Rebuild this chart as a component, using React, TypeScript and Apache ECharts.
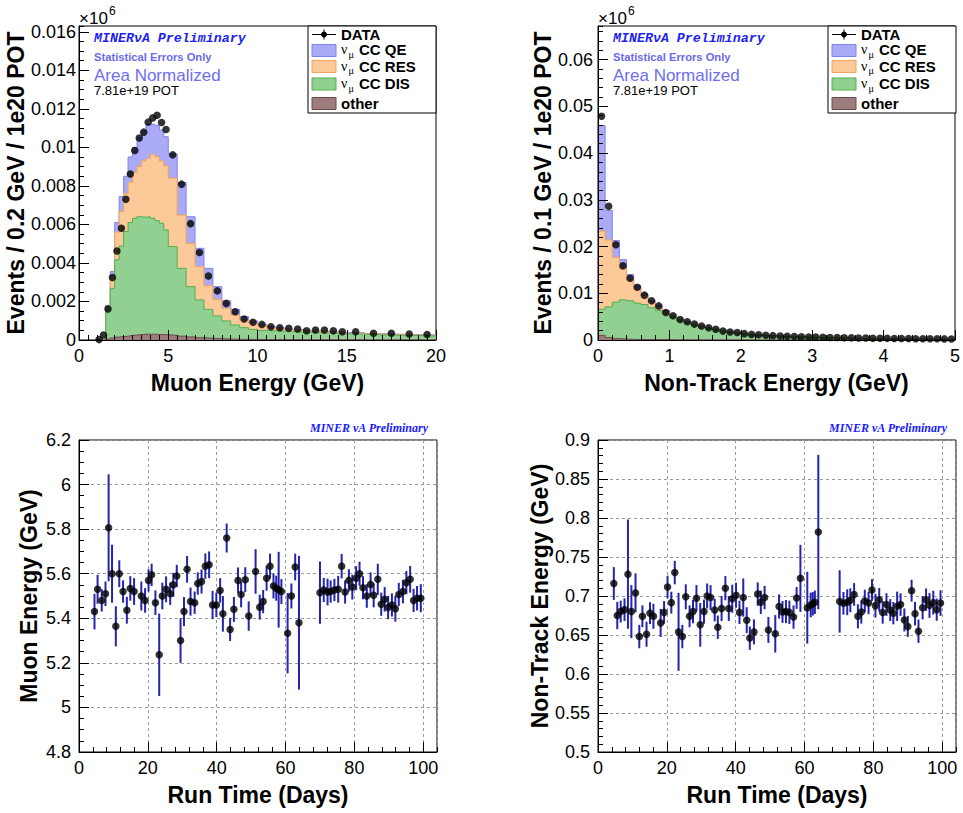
import React, { useEffect, useRef } from 'react';
import * as echarts from 'echarts';

// ---------- Top-left: Muon energy (values in units of 1e-3) ----------
const muonEdges = [1.0, 1.25, 1.5, 1.75, 2.0, 2.25, 2.5, 2.75, 3.0, 3.25, 3.5, 3.75, 4.0, 4.25, 4.5, 4.75, 5.0,
  5.5, 6.0, 6.5, 7.0, 7.5, 8.0, 8.5, 9.0, 9.5, 10.0, 10.5, 11.0, 11.5, 12.0, 12.5, 13.0, 13.5, 14.0, 14.5, 15.0,
  16.0, 17.0, 18.0, 19.0, 20.0];
const muonData = [0.02, 0.26, 1.61, 3.24, 4.62, 5.80, 7.31, 8.62, 9.84, 10.48, 10.79, 11.31, 11.53, 11.67, 11.29, 10.93,
  9.61, 8.09, 6.04, 4.54, 3.32, 2.55, 1.90, 1.47, 1.09, 0.92, 0.81, 0.69, 0.64, 0.61, 0.57, 0.48, 0.52, 0.52, 0.48, 0.43,
  0.43, 0.35, 0.35, 0.31, 0.28];
const muonQE = [0, 0, 0.04, 0.25, 0.5, 0.78, 0.9, 1.3, 1.3, 1.5, 1.55, 1.76, 1.55, 1.63, 1.6, 1.5,
  1.26, 1.68, 1.38, 0.95, 0.9, 0.66, 0.38, 0.29, 0.17, 0.11, 0.08, 0.06, 0.05, 0.04, 0.03, 0.03, 0.03, 0.03, 0.02, 0.02,
  0.03, 0.02, 0.02, 0.02, 0.02];
const muonRES = [0, 0, 0.03, 0.62, 1.44, 1.79, 1.97, 2.1, 2.38, 2.6, 2.93, 3.04, 3.33, 3.32, 3.24, 3.34,
  3.55, 2.77, 2.25, 1.73, 1.23, 0.86, 0.66, 0.52, 0.4, 0.32, 0.24, 0.16, 0.12, 0.09, 0.08, 0.07, 0.06, 0.06, 0.06, 0.06,
  0.04, 0.04, 0.03, 0.03, 0.03];
const muonDIS = [0, 0, 1.68, 2.58, 4.01, 4.7, 5.43, 5.87, 6.06, 6.12, 6.07, 6.1, 6.02, 5.91, 5.78, 5.44,
  4.61, 3.52, 2.61, 1.96, 1.5, 1.18, 0.94, 0.74, 0.61, 0.52, 0.475, 0.46, 0.44, 0.42, 0.4, 0.385, 0.365, 0.345, 0.325, 0.305,
  0.29, 0.26, 0.24, 0.22, 0.2];
const muonOther = [0, 0, 0.05, 0.1, 0.15, 0.18, 0.2, 0.23, 0.26, 0.28, 0.3, 0.3, 0.3, 0.29, 0.28, 0.27,
  0.24, 0.2, 0.16, 0.12, 0.09, 0.07, 0.05, 0.04, 0.03, 0.03, 0.025, 0.02, 0.02, 0.02, 0.02, 0.015, 0.015, 0.015, 0.015, 0.015,
  0.01, 0.01, 0.01, 0.01, 0.01];
const muonScale = 0.001;

// ---------- Top-right: Non-track energy (values in units of 1e-2) ----------
const ntEdges = [0, 0.1, 0.2, 0.3, 0.4, 0.5, 0.6, 0.7, 0.8, 0.9, 1.0, 1.1, 1.2, 1.3, 1.4, 1.5, 1.6, 1.7, 1.8, 1.9, 2.0,
  2.1, 2.2, 2.3, 2.4, 2.5, 2.6, 2.7, 2.8, 2.9, 3.0, 3.1, 3.2, 3.3, 3.4, 3.5, 3.6, 3.7, 3.8, 3.9, 4.0,
  4.1, 4.2, 4.3, 4.4, 4.5, 4.6, 4.7, 4.8, 4.9, 5.0];
const ntData = [4.79, 2.86, 2.04, 1.59, 1.32, 1.13, 0.96, 0.84, 0.73, 0.59, 0.52, 0.44, 0.39, 0.34, 0.30, 0.26, 0.23, 0.19,
  0.17, 0.16, 0.136, 0.12, 0.114, 0.1, 0.093, 0.086, 0.08, 0.075, 0.07, 0.066, 0.062, 0.058, 0.055, 0.052, 0.049, 0.046,
  0.043, 0.041, 0.039, 0.037, 0.035, 0.033, 0.031, 0.03, 0.028, 0.027, 0.026, 0.025, 0.024, 0.023];
const ntQE = [2.26, 0.63, 0.36, 0.2, 0.11, 0.07, 0.04, 0.03, 0.04, 0.04, 0.02, 0.015, 0.01, 0.01, 0.01,
  0.008, 0.007, 0.007, 0.006, 0.006, 0.005, 0.005, 0.005, 0.004, 0.004, 0.004, 0.004, 0.003, 0.003, 0.003, 0.003, 0.003,
  0.003, 0.002, 0.002, 0.002, 0.002, 0.002, 0.002, 0.002, 0.002, 0.002, 0.001, 0.001, 0.001, 0.001, 0.001, 0.001, 0.001, 0.001];
const ntRES = [1.67, 1.43, 0.96, 0.66, 0.45, 0.30, 0.19, 0.12, 0.07, 0.03, 0.02, 0.015, 0.01, 0.01, 0.008,
  0.008, 0.007, 0.007, 0.006, 0.006, 0.005, 0.005, 0.005, 0.004, 0.004, 0.004, 0.004, 0.003, 0.003, 0.003, 0.003, 0.003,
  0.003, 0.002, 0.002, 0.002, 0.002, 0.002, 0.002, 0.002, 0.002, 0.002, 0.001, 0.001, 0.001, 0.001, 0.001, 0.001, 0.001, 0.001];
const ntDIS = [0.56, 0.66, 0.78, 0.84, 0.825, 0.78, 0.75, 0.68, 0.62, 0.55, 0.485, 0.415, 0.365, 0.315, 0.278,
  0.247, 0.217, 0.187, 0.162, 0.142, 0.125, 0.109, 0.097, 0.087, 0.079, 0.072, 0.066, 0.061, 0.056, 0.052, 0.048, 0.044,
  0.041, 0.038, 0.035, 0.032, 0.029, 0.027, 0.025, 0.023, 0.021, 0.019, 0.017, 0.016, 0.014, 0.013, 0.012, 0.011, 0.01, 0.009];
const ntOther = [0.1, 0.05, 0.03, 0.02, 0.015, 0.01, 0.01, 0.01, 0.01, 0.01, 0.005, 0.005, 0.005, 0.005, 0.004,
  0.004, 0.003, 0.003, 0.003, 0.003, 0.003, 0.002, 0.002, 0.002, 0.002, 0.002, 0.002, 0.002, 0.002, 0.002, 0.001, 0.001,
  0.001, 0.001, 0.001, 0.001, 0.001, 0.001, 0.001, 0.001, 0.001, 0.001, 0.001, 0.001, 0.001, 0.001, 0.001, 0.001, 0.001, 0.001];
const ntScale = 0.01;

// ---------- Bottom-left: Muon energy vs run time ----------
const muDays = [4.5, 5.4, 6.6, 7.7, 8.6, 9.6, 10.7, 11.7, 12.8, 13.9,
  14.9, 16.0, 18.1, 19.2, 20.2, 21.1, 22.2, 23.3, 24.2, 25.3,
  26.5, 27.4, 28.4, 29.5, 30.5, 31.4, 32.4, 33.6, 34.5, 35.6,
  36.7, 37.8, 38.8, 39.9, 41.0, 41.8, 42.9, 43.9, 45.0, 46.2,
  47.1, 48.3, 49.3, 51.3, 52.5, 53.5, 54.5, 55.5, 56.5, 57.3,
  58.0, 58.8, 60.6, 61.7, 62.8, 63.9, 70.0, 71.1, 72.2, 73.1,
  74.2, 75.3, 76.3, 77.3, 78.4, 79.4, 80.5, 81.5, 82.5, 83.6,
  84.7, 85.6, 86.8, 87.8, 88.8, 89.8, 90.9, 91.9, 92.9, 94.1,
  95.1, 96.2, 97.2, 98.2, 99.3];
const muVals = [5.43, 5.53, 5.48, 5.51, 5.806, 5.6, 5.364, 5.6, 5.52, 5.436,
  5.534, 5.52, 5.5, 5.48, 5.57, 5.595, 5.47, 5.236, 5.5, 5.53,
  5.51, 5.55, 5.59, 5.30, 5.43, 5.62, 5.475, 5.47, 5.556, 5.565,
  5.634, 5.64, 5.46, 5.46, 5.525, 5.42, 5.76, 5.35, 5.44, 5.57,
  5.507, 5.573, 5.41, 5.61, 5.45, 5.475, 5.58, 5.634, 5.545, 5.535,
  5.528, 5.52, 5.333, 5.5, 5.63, 5.38, 5.515, 5.527, 5.518, 5.52,
  5.527, 5.53, 5.634, 5.518, 5.57, 5.54, 5.58, 5.6, 5.537, 5.5,
  5.552, 5.503, 5.575, 5.463, 5.485, 5.448, 5.46, 5.443, 5.507, 5.52,
  5.56, 5.575, 5.48, 5.49, 5.49];
const muErrs = [0.08, 0.065, 0.05, 0.055, 0.24, 0.13, 0.09, 0.06, 0.05, 0.06,
  0.055, 0.06, 0.065, 0.055, 0.05, 0.05, 0.055, 0.185, 0.06, 0.058,
  0.05, 0.054, 0.05, 0.1, 0.065, 0.06, 0.063, 0.05, 0.05, 0.054,
  0.057, 0.06, 0.063, 0.055, 0.055, 0.08, 0.065, 0.052, 0.056, 0.058,
  0.058, 0.056, 0.066, 0.1, 0.056, 0.052, 0.056, 0.056, 0.056, 0.056,
  0.17, 0.056, 0.18, 0.056, 0.06, 0.3, 0.14, 0.054, 0.06, 0.05,
  0.05, 0.06, 0.055, 0.052, 0.05, 0.056, 0.054, 0.054, 0.052, 0.053,
  0.054, 0.054, 0.07, 0.052, 0.055, 0.052, 0.052, 0.058, 0.052, 0.053,
  0.052, 0.06, 0.052, 0.055, 0.063];

// ---------- Bottom-right: Non-track energy vs run time ----------
const ntDays = [4.6, 5.6, 6.6, 7.7, 8.7, 9.7, 10.9, 12.0, 12.9, 14.1,
  15.1, 16.1, 18.2, 19.2, 20.2, 21.3, 22.3, 23.4, 24.5, 25.5,
  26.6, 27.6, 28.6, 29.7, 30.8, 31.7, 32.7, 33.9, 34.8, 35.9,
  37.0, 38.0, 39.0, 40.1, 41.1, 42.2, 43.2, 44.1, 45.3, 46.4,
  47.3, 48.4, 49.5, 51.5, 52.6, 53.6, 54.6, 55.6, 56.8, 57.7,
  58.8, 60.8, 61.8, 62.4, 63.0, 64.0,
  70.2, 71.3, 72.4, 73.3, 74.4, 75.5, 76.5, 77.5, 78.6, 79.6,
  80.6, 81.7, 82.7, 83.8, 84.9, 85.8, 86.9, 87.9, 89.0, 90.0,
  91.1, 92.1, 93.1, 94.3, 95.3, 96.3, 97.4, 98.4, 99.5];
const ntVals = [0.716, 0.675, 0.68, 0.6825, 0.728, 0.68, 0.704, 0.648, 0.674, 0.651,
  0.678, 0.674, 0.6655, 0.679, 0.7115, 0.6915, 0.73, 0.654, 0.648, 0.699,
  0.674, 0.68, 0.697, 0.663, 0.68, 0.7, 0.698, 0.682, 0.66, 0.684,
  0.71, 0.684, 0.6965, 0.701, 0.679, 0.698, 0.669, 0.646, 0.654, 0.7025,
  0.692, 0.698, 0.6565, 0.6515, 0.6865, 0.6795, 0.68, 0.679, 0.673, 0.6975,
  0.7226, 0.685, 0.6885, 0.69, 0.692, 0.782,
  0.693, 0.6906, 0.692, 0.6945, 0.702, 0.674, 0.6795, 0.6936, 0.691, 0.7077,
  0.6876, 0.6953, 0.679, 0.689, 0.682, 0.678, 0.6868, 0.689, 0.6693, 0.661,
  0.7068, 0.6774, 0.6548, 0.685, 0.6953, 0.688, 0.6915, 0.6825, 0.691];
const ntErrs = [0.021, 0.0175, 0.014, 0.0145, 0.07, 0.034, 0.025, 0.015, 0.014, 0.016,
  0.014, 0.016, 0.018, 0.0145, 0.0145, 0.014, 0.015, 0.05, 0.015, 0.016,
  0.014, 0.015, 0.017, 0.028, 0.0155, 0.016, 0.016, 0.0145, 0.015, 0.016,
  0.0155, 0.016, 0.018, 0.016, 0.015, 0.0245, 0.0166, 0.015, 0.016, 0.015,
  0.015, 0.015, 0.0166, 0.024, 0.0155, 0.014, 0.0148, 0.015, 0.015, 0.014,
  0.043, 0.046, 0.0158, 0.015, 0.015, 0.099,
  0.04, 0.0145, 0.0166, 0.0153, 0.0145, 0.0155, 0.0149, 0.0145, 0.0143, 0.014,
  0.0153, 0.015, 0.0145, 0.0145, 0.014, 0.0143, 0.0188, 0.0145, 0.0147, 0.0134,
  0.014, 0.015, 0.015, 0.015, 0.0143, 0.016, 0.0153, 0.0143, 0.0164];

const legendLabels = ['DATA', 'CC QE', 'CC RES', 'CC DIS', 'other'];

const FONT = 'Liberation Sans, Arial, Helvetica, sans-serif';
const COLORS = {
  qe: { fill: '#aaaaf7', line: '#8181ee' },
  res: { fill: '#fcc998', line: '#f3a45a' },
  dis: { fill: '#92d092', line: '#4fb04f' },
  other: { fill: '#9e7c7c', line: '#6d4a4a' },
};
const ERR_COLOR = '#2424ac';

function stepPoints(edges: number[], vals: number[], scale: number) {
  const pts: number[][] = [];
  for (let i = 0; i < vals.length; i++) {
    pts.push([edges[i], vals[i] * scale]);
    pts.push([edges[i + 1], vals[i] * scale]);
  }
  return pts;
}

function cumulative(layers: number[][]) {
  const out: number[][] = [];
  let run = layers[0].map(() => 0);
  for (const l of layers) {
    run = run.map((v, i) => v + l[i]);
    out.push(run.slice());
  }
  return out;
}

function histSeries(idx: number, edges: number[], scale: number, other: number[], dis: number[], res: number[], qe: number[]) {
  const [tOther, tDis, tRes, tQE] = cumulative([other, dis, res, qe]);
  const mk = (name: string, vals: number[], c: { fill: string; line: string }, z: number) => ({
    type: 'line', name, xAxisIndex: idx, yAxisIndex: idx, data: stepPoints(edges, vals, scale),
    symbol: 'none', showSymbol: false, silent: true, z,
    lineStyle: { color: c.line, width: 1 }, areaStyle: { color: c.fill, opacity: 1 },
  });
  return [
    mk('QE', tQE, COLORS.qe, 2),
    mk('RES', tRes, COLORS.res, 3),
    mk('DIS', tDis, COLORS.dis, 4),
    mk('other', tOther, COLORS.other, 5),
  ];
}

function dataPoints(idx: number, edges: number[], vals: number[], scale: number) {
  return {
    type: 'scatter', xAxisIndex: idx, yAxisIndex: idx, symbol: 'circle', symbolSize: 7.5, z: 20, silent: true,
    itemStyle: { color: '#000' },
    data: vals.map((v, i) => [(edges[i] + edges[i + 1]) / 2, v * scale]),
  };
}

function errorSeries(idx: number, xs: number[], ys: number[], es: number[]) {
  return [
    {
      type: 'custom', xAxisIndex: idx, yAxisIndex: idx, z: 15, silent: true,
      encode: { x: 0, y: 1 },
      data: xs.map((x, i) => [x, ys[i], es[i]]),
      renderItem: (params: any, api: any) => {
        const x = api.value(0), y = api.value(1), e = api.value(2);
        const p1 = api.coord([x, y - e]);
        const p2 = api.coord([x, y + e]);
        return {
          type: 'line',
          shape: { x1: p1[0], y1: p1[1], x2: p2[0], y2: p2[1] },
          style: { stroke: ERR_COLOR, lineWidth: 2 },
        };
      },
    },
    {
      type: 'scatter', xAxisIndex: idx, yAxisIndex: idx, symbol: 'circle', symbolSize: 7.5, z: 20, silent: true,
      itemStyle: { color: '#000' },
      data: xs.map((x, i) => [x, ys[i]]),
    },
  ];
}

const labelStyle = (margin: number, extra: any = {}) => ({
  show: true, margin, fontFamily: FONT, fontSize: 18, color: '#000', ...extra,
});
const nameStyle = { fontFamily: FONT, fontSize: 23, fontWeight: 'bold', color: '#000' };
const blackLine = { color: '#000', width: 1 };

function mainAxis(o: any) {
  const a: any = {
    type: 'value', gridIndex: o.grid, min: o.min, max: o.max, interval: o.interval, z: 8,
    name: o.name, nameLocation: 'middle', nameGap: o.nameGap, nameTextStyle: nameStyle,
    axisLine: { show: true, onZero: false, lineStyle: blackLine },
    axisTick: { show: true, inside: true, length: 10, lineStyle: blackLine },
    minorTick: o.minor ? { show: true, splitNumber: o.minor, length: 5, lineStyle: blackLine } : { show: false },
    axisLabel: labelStyle(o.margin, o.hideMax ? { showMaxLabel: false } : {}),
    splitLine: o.grid2 ? { show: true, lineStyle: { color: '#9a9a9a', type: [3, 3], width: 1 } } : { show: false },
  };
  if (o.position) a.position = o.position;
  return a;
}

function minorAxis(grid: number, min: number, max: number, interval: number, position: string) {
  return {
    type: 'value', gridIndex: grid, min, max, interval, position, z: 8,
    axisLine: { show: false, onZero: false },
    axisTick: { show: true, inside: true, length: 5, lineStyle: blackLine },
    axisLabel: { show: false },
    splitLine: { show: false },
  };
}

function legendGraphics(ox: number) {
  const els: any[] = [];
  const fs = 15;
  els.push({ type: 'rect', shape: { x: 308 + ox, y: 26, width: 128, height: 87 }, style: { fill: '#fff', stroke: '#000', lineWidth: 1 }, z: 100 });
  els.push({ type: 'line', shape: { x1: 312 + ox, y1: 34.5, x2: 336 + ox, y2: 34.5 }, style: { stroke: '#000', lineWidth: 1 }, z: 101 });
  els.push({ type: 'line', shape: { x1: 324 + ox, y1: 29.5, x2: 324 + ox, y2: 39.5 }, style: { stroke: '#000', lineWidth: 1 }, z: 101 });
  els.push({ type: 'circle', shape: { cx: 324 + ox, cy: 34.5, r: 3 }, style: { fill: '#000' }, z: 101 });
  els.push({ type: 'text', x: 341 + ox, y: 34.5, z: 101, style: { text: legendLabels[0], fontFamily: FONT, fontSize: fs, fontWeight: 'bold', fill: '#000', align: 'left', verticalAlign: 'middle' } });
  const rows = [
    { label: legendLabels[1], y: 50.5, ty: 49.5, c: COLORS.qe, nu: true },
    { label: legendLabels[2], y: 66.5, ty: 66, c: COLORS.res, nu: true },
    { label: legendLabels[3], y: 84, ty: 83.5, c: COLORS.dis, nu: true },
    { label: legendLabels[4], y: 103.5, ty: 103.5, c: COLORS.other, nu: false },
  ];
  for (const r of rows) {
    els.push({ type: 'rect', shape: { x: 312 + ox, y: r.y - 6, width: 24, height: 12 }, style: { fill: r.c.fill, stroke: r.c.line, lineWidth: 1 }, z: 101 });
    if (r.nu) {
      els.push({ type: 'text', x: 341 + ox, y: r.ty, z: 101, style: { text: 'ν', fontFamily: 'Liberation Serif, serif', fontSize: 14, fill: '#000', align: 'left', verticalAlign: 'middle' } });
      els.push({ type: 'text', x: 348.5 + ox, y: r.ty + 4.5, z: 101, style: { text: 'μ', fontFamily: 'Liberation Serif, serif', fontSize: 10, fill: '#000', align: 'left', verticalAlign: 'middle' } });
      els.push({ type: 'text', x: 359 + ox, y: r.ty, z: 101, style: { text: r.label, fontFamily: FONT, fontSize: fs, fontWeight: 'bold', fill: '#000', align: 'left', verticalAlign: 'middle' } });
    } else {
      els.push({ type: 'text', x: 341 + ox, y: r.ty, z: 101, style: { text: r.label, fontFamily: FONT, fontSize: fs, fontWeight: 'bold', fill: '#000', align: 'left', verticalAlign: 'middle' } });
    }
  }
  return els;
}

function topTexts(ox: number) {
  const t = (x: number, y: number, text: string, style: any) => ({
    type: 'text', x: x + ox, y, z: 50, style: { text, align: 'left', verticalAlign: 'middle', ...style },
  });
  return [
    t(94, 38.5, 'MINERνA Preliminary', { fontFamily: 'Liberation Mono, monospace', fontSize: 13.3, fontWeight: 'bold', fontStyle: 'italic', fill: '#1f1ff2' }),
    t(94, 56.7, 'Statistical Errors Only', { fontFamily: FONT, fontSize: 11.2, fontWeight: 'bold', fill: '#6a6ae8' }),
    t(94, 75, 'Area Normalized', { fontFamily: FONT, fontSize: 17, fill: '#6e6ef0' }),
    t(94, 90.7, '7.81e+19 POT', { fontFamily: FONT, fontSize: 13, fill: '#000' }),
    t(79, 18.5, '×10', { fontFamily: FONT, fontSize: 17, fill: '#000' }),
    t(109, 11, '6', { fontFamily: FONT, fontSize: 12, fill: '#000' }),
  ];
}

function bottomTitle(xRight: number) {
  return {
    type: 'text', x: xRight, y: 428, z: 50,
    style: { text: 'MINER νA Preliminary', fontFamily: 'Liberation Serif, Times New Roman, serif', fontSize: 12, fontWeight: 'bold', fontStyle: 'italic', fill: '#1a1aff', align: 'right', verticalAlign: 'middle' },
  };
}

function buildOption() {
  const gridBase = { show: true, borderColor: '#000', borderWidth: 1, backgroundColor: 'rgba(0,0,0,0)', containLabel: false };
  return {
    animation: false,
    backgroundColor: '#fff',
    grid: [
      { ...gridBase, left: 79, top: 26, width: 357, height: 314 },
      { ...gridBase, left: 598, top: 26, width: 358, height: 314 },
      { ...gridBase, left: 79, top: 440, width: 358, height: 312 },
      { ...gridBase, left: 598, top: 440, width: 358, height: 312 },
    ],
    xAxis: [
      mainAxis({ grid: 0, min: 0, max: 20, interval: 5, name: 'Muon Energy (GeV)', nameGap: 31, minor: 10, margin: 7 }),
      mainAxis({ grid: 1, min: 0, max: 5, interval: 1, name: 'Non-Track Energy (GeV)', nameGap: 31, minor: 5, margin: 7 }),
      mainAxis({ grid: 2, min: 0, max: 104, interval: 20, name: 'Run Time (Days)', nameGap: 31, margin: 7, hideMax: true, grid2: true }),
      mainAxis({ grid: 3, min: 0, max: 104, interval: 20, name: 'Run Time (Days)', nameGap: 31, margin: 7, hideMax: true, grid2: true }),
      minorAxis(2, 0, 104, 4, 'bottom'),
      minorAxis(3, 0, 104, 4, 'bottom'),
    ],
    yAxis: [
      mainAxis({ grid: 0, min: 0, max: 0.0163, interval: 0.002, name: 'Events / 0.2 GeV / 1e20 POT', nameGap: 45, margin: 3, hideMax: true, position: 'left' }),
      mainAxis({ grid: 1, min: 0, max: 0.0672, interval: 0.01, name: 'Events / 0.1 GeV / 1e20 POT', nameGap: 43, margin: 5, hideMax: true, position: 'left' }),
      mainAxis({ grid: 2, min: 4.8, max: 6.2, interval: 0.2, name: 'Muon Energy (GeV)', nameGap: 39, minor: 4, margin: 8, grid2: true, position: 'left' }),
      mainAxis({ grid: 3, min: 0.5, max: 0.9, interval: 0.05, name: 'Non-Track Energy (GeV)', nameGap: 43, minor: 5, margin: 8, grid2: true, position: 'left' }),
      minorAxis(0, 0, 0.0163, 0.0005, 'left'),
      minorAxis(1, 0, 0.0672, 0.002, 'left'),
    ],
    series: [
      ...histSeries(0, muonEdges, muonScale, muonOther, muonDIS, muonRES, muonQE),
      dataPoints(0, muonEdges, muonData, muonScale),
      ...histSeries(1, ntEdges, ntScale, ntOther, ntDIS, ntRES, ntQE),
      dataPoints(1, ntEdges, ntData, ntScale),
      ...errorSeries(2, muDays, muVals, muErrs),
      ...errorSeries(3, ntDays, ntVals, ntErrs),
    ],
    graphic: {
      elements: [
        ...topTexts(0),
        ...topTexts(519),
        ...legendGraphics(0),
        ...legendGraphics(520),
        bottomTitle(428),
        bottomTitle(947),
      ],
    },
  };
}

export default function App() {
  const ref = useRef<HTMLDivElement>(null);
  useEffect(() => {
    document.body.style.margin = '0';
    const chart = echarts.init(ref.current as HTMLDivElement, null, { renderer: 'svg' });
    chart.setOption(buildOption() as any);
    return () => chart.dispose();
  }, []);
  return <div ref={ref} style={{ width: 963, height: 813, background: '#fff' }} />;
}
